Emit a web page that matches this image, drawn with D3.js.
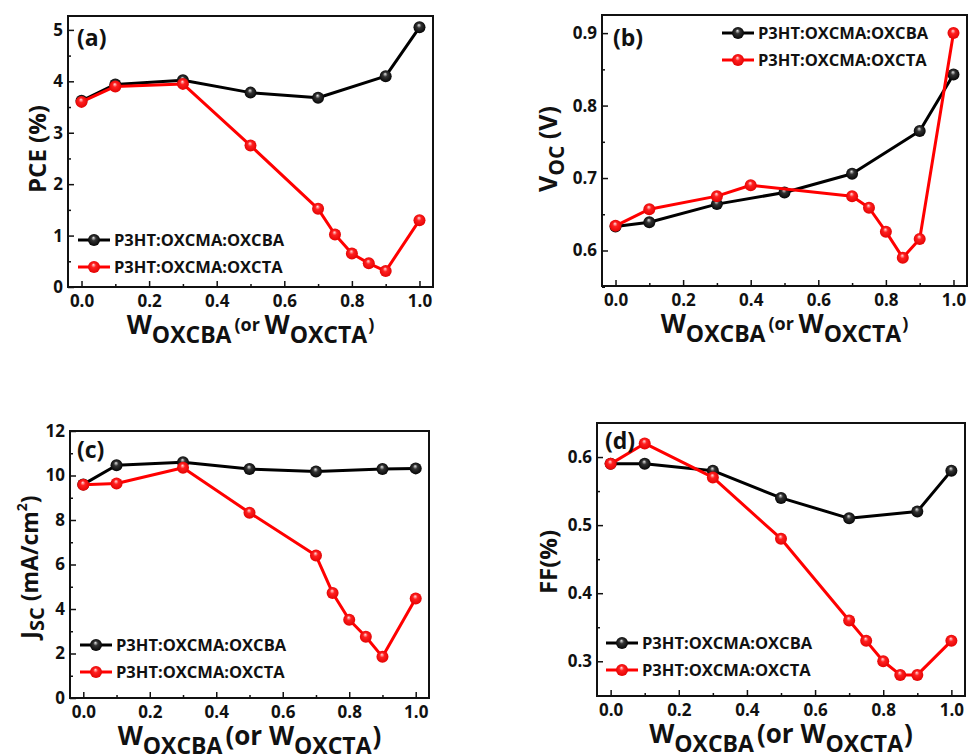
<!DOCTYPE html>
<html>
<head>
<meta charset="utf-8">
<script src="https://cdn.jsdelivr.net/npm/d3@7"></script>
<style>
  body { margin: 0; background: #fff; }
  svg text { font-family: "Open Sans", "DejaVu Sans", sans-serif; font-weight: bold; fill: #111; }
</style>
</head>
<body>
<script>
(function(){

	// x values (weight fraction of OXCBA or OXCTA)
	var xBlack = [0, 0.1, 0.3, 0.5, 0.7, 0.9, 1.0];
	var xRed = [0, 0.1, 0.3, 0.5, 0.7, 0.75, 0.8, 0.85, 0.9, 1.0];
	var xRedVoc = [0, 0.1, 0.3, 0.4, 0.7, 0.75, 0.8, 0.85, 0.9, 1.0];

	// (a) PCE
	var pceBlack = [3.62, 3.94, 4.02, 3.78, 3.68, 4.10, 5.05];
	var pceRed = [3.60, 3.90, 3.95, 2.75, 1.52, 1.02, 0.65, 0.46, 0.31, 1.30];
	// (b) Voc
	var vocBlack = [0.633, 0.639, 0.664, 0.680, 0.706, 0.765, 0.843];
	var vocRed = [0.634, 0.657, 0.675, 0.690, 0.675, 0.659, 0.626, 0.590, 0.616, 0.900];
	// (c) Jsc
	var jscBlack = [9.60, 10.46, 10.60, 10.29, 10.18, 10.29, 10.32];
	var jscRed = [9.58, 9.64, 10.35, 8.33, 6.40, 4.72, 3.52, 2.75, 1.85, 4.47];
	// (d) FF
	var ffBlack = [0.59, 0.59, 0.58, 0.54, 0.51, 0.52, 0.58];
	var ffRed = [0.59, 0.62, 0.57, 0.48, 0.36, 0.33, 0.30, 0.28, 0.28, 0.33];

	var seriesNames = ["P3HT:OXCMA:OXCBA", "P3HT:OXCMA:OXCTA"];
	var seriesColors = ["#000000", "#ff0000"];
	var xTicks = [0, 0.2, 0.4, 0.6, 0.8, 1.0];
	var xMinor = [0.1, 0.3, 0.5, 0.7, 0.9];

	var width = 968, height = 754;

	var svg = d3.select("body")
		.append("svg")
		.attr("width", width)
		.attr("height", height);

	// glossy ball gradients
	var defs = svg.append("defs");
	function ball(id, light, mid, dark){
		var g = defs.append("radialGradient")
			.attr("id", id)
			.attr("cx", 0.5).attr("cy", 0.5).attr("r", 0.55)
			.attr("fx", 0.45).attr("fy", 0.3);
		g.append("stop").attr("offset", "0%").attr("stop-color", light);
		g.append("stop").attr("offset", "35%").attr("stop-color", mid);
		g.append("stop").attr("offset", "100%").attr("stop-color", dark);
	}
	ball("ball0", "#e8e8e8", "#333", "#000");
	ball("ball1", "#ffe0e0", "#ff2020", "#e00000");

	var panels = [
		{ box: [68, 16, 433, 287], yDom: [0, 5.27], yTicks: [0,1,2,3,4,5], yMinor: [0.5,1.5,2.5,3.5,4.5], yFmt: d3.format("d"),
		  series: [[xBlack, pceBlack], [xRed, pceRed]], tag: "(a)", tagPos: [77, 46],
		  legend: [78, 240], smallParen: true },
		{ box: [602, 15, 967, 286], yDom: [0.551, 0.925], yTicks: [0.6,0.7,0.8,0.9], yMinor: [0.55,0.65,0.75,0.85], yFmt: d3.format(".1f"),
		  series: [[xBlack, vocBlack], [xRedVoc, vocRed]], tag: "(b)", tagPos: [613, 46],
		  legend: [722, 33], smallParen: true },
		{ box: [70, 431, 429, 698], yDom: [0, 12], yTicks: [0,2,4,6,8,10,12], yMinor: [1,3,5,7,9,11], yFmt: d3.format("d"),
		  series: [[xBlack, jscBlack], [xRed, jscRed]], tag: "(c)", tagPos: [77, 458],
		  legend: [80, 645], smallParen: false },
		{ box: [597, 423, 965, 696], yDom: [0.249, 0.65], yTicks: [0.3,0.4,0.5,0.6], yMinor: [0.25,0.35,0.45,0.55], yFmt: d3.format(".1f"),
		  series: [[xBlack, ffBlack], [xRed, ffRed]], tag: "(d)", tagPos: [605, 449],
		  legend: [606, 643], smallParen: false }
	];

	panels.forEach(drawPanel);

	function drawPanel(p){
		var left = p.box[0], top = p.box[1], right = p.box[2], bottom = p.box[3];
		var x = d3.scaleLinear().domain([-0.04, 1.04]).range([left, right]);
		var y = d3.scaleLinear().domain(p.yDom).range([bottom, top]);
		var g = svg.append("g");

		// bottom axis, ticks inward
		g.append("g").attr("transform", "translate(0," + bottom + ")")
			.call(d3.axisBottom(x).tickValues(xTicks).tickSize(-6).tickPadding(8).tickFormat(d3.format(".1f")))
			.call(styleAxis);
		g.append("g").attr("transform", "translate(0," + bottom + ")")
			.call(d3.axisBottom(x).tickValues(xMinor).tickSize(-3).tickFormat(""))
			.call(styleAxis);
		// left axis
		g.append("g").attr("transform", "translate(" + left + ",0)")
			.call(d3.axisLeft(y).tickValues(p.yTicks).tickSize(-6).tickPadding(5).tickFormat(p.yFmt))
			.call(styleAxis);
		g.append("g").attr("transform", "translate(" + left + ",0)")
			.call(d3.axisLeft(y).tickValues(p.yMinor).tickSize(-3).tickFormat(""))
			.call(styleAxis);

		// frame
		g.append("rect")
			.attr("x", left).attr("y", top)
			.attr("width", right - left).attr("height", bottom - top)
			.attr("fill", "none").attr("stroke", "#111").attr("stroke-width", 2);

		var line = d3.line().x(function(d){ return x(d[0]); }).y(function(d){ return y(d[1]); });

		p.series.forEach(function(s, i){
			var pts = d3.zip(s[0], s[1]);
			g.append("path")
				.datum(pts)
				.attr("d", line)
				.attr("fill", "none")
				.attr("stroke", seriesColors[i])
				.attr("stroke-width", 3)
				.attr("stroke-linejoin", "round");
			g.selectAll(".pt" + i)
				.data(pts)
				.enter()
				.append("circle")
				.attr("class", "pt" + i)
				.attr("cx", function(d){ return x(d[0]); })
				.attr("cy", function(d){ return y(d[1]); })
				.attr("r", 6)
				.attr("fill", "url(#ball" + i + ")");
		});

		// panel tag
		g.append("text")
			.attr("x", p.tagPos[0]).attr("y", p.tagPos[1])
			.attr("font-size", 23)
			.text(p.tag);

		// legend
		seriesNames.forEach(function(name, i){
			var lx = p.legend[0], ly = p.legend[1] + i * 27;
			g.append("line")
				.attr("x1", lx).attr("x2", lx + 32)
				.attr("y1", ly).attr("y2", ly)
				.attr("stroke", seriesColors[i]).attr("stroke-width", 3);
			g.append("circle")
				.attr("cx", lx + 16).attr("cy", ly).attr("r", 6)
				.attr("fill", "url(#ball" + i + ")");
			g.append("text")
				.attr("x", lx + 36).attr("y", ly)
				.attr("dy", "0.36em")
				.attr("font-size", 16.5)
				.text(name);
		});

		// x title
		var cx = (left + right) / 2;
		var xt = g.append("text")
			.attr("x", cx).attr("y", bottom + 47)
			.attr("text-anchor", "middle")
			.attr("font-size", 26);
		var ps = p.smallParen ? 18 : 26;
		var pd = p.smallParen ? -3 : 0;
		xt.append("tspan").text("W");
		xt.append("tspan").attr("font-size", 23).attr("dy", 9).text("OXCBA");
		xt.append("tspan").attr("font-size", ps).attr("dx", 3).attr("dy", -9 + pd).text("(or ");
		xt.append("tspan").attr("dy", -pd).text("W");
		xt.append("tspan").attr("font-size", 23).attr("dy", 9).text("OXCTA");
		xt.append("tspan").attr("font-size", ps).attr("dx", 1).attr("dy", -9 + pd).text(")");
	}

	function styleAxis(sel){
		sel.select(".domain").remove();
		sel.selectAll(".tick line").attr("stroke", "#111").attr("stroke-width", 1.5);
		sel.selectAll(".tick text").attr("font-size", 17).attr("fill", "#111");
	}

	// y titles
	var t;
	svg.append("text").attr("transform", "translate(46,149) rotate(-90)")
		.attr("text-anchor", "middle").attr("font-size", 24).text("PCE (%)");

	t = svg.append("text").attr("transform", "translate(557,149) rotate(-90)")
		.attr("text-anchor", "middle").attr("font-size", 25);
	t.append("tspan").text("V");
	t.append("tspan").attr("font-size", 21).attr("dy", 7).text("OC");
	t.append("tspan").attr("dy", -7).text(" (V)");

	t = svg.append("text").attr("transform", "translate(38,567) rotate(-90)")
		.attr("text-anchor", "middle").attr("font-size", 23);
	t.append("tspan").text("J");
	t.append("tspan").attr("font-size", 20).attr("dy", 6).text("SC");
	t.append("tspan").attr("dy", -6).text(" (mA/cm");
	t.append("tspan").attr("font-size", 14).attr("dy", -11).text("2");
	t.append("tspan").attr("dy", 11).text(")");

	svg.append("text").attr("transform", "translate(557,562) rotate(-90)")
		.attr("text-anchor", "middle").attr("font-size", 24).text("FF(%)");

})();
</script>
</body>
</html>
